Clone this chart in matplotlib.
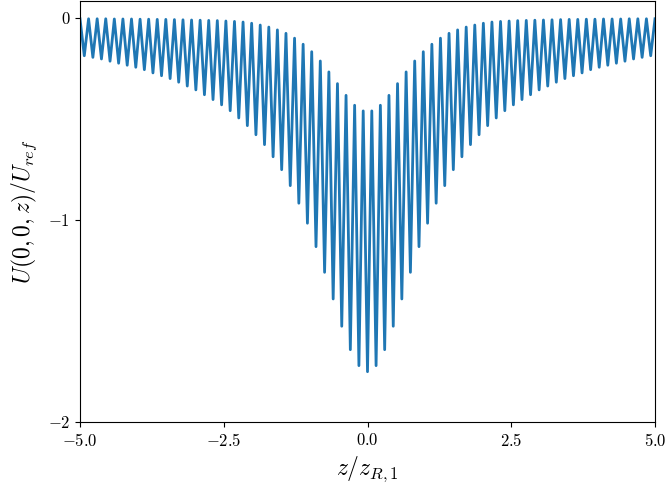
import numpy as np
import matplotlib
matplotlib.use("Agg")
import matplotlib.pyplot as plt

plt.rcParams['mathtext.fontset'] = 'cm'
plt.rcParams['font.family'] = 'serif'
plt.rcParams['font.serif'] = ['cmr10', 'DejaVu Serif']

# potential maxima (between wells), z<0 side then z>0 side
peaks_left = [-0.004, -0.004, -0.004, -0.004, -0.005, -0.005, -0.005, -0.006, -0.006,
              -0.007, -0.007, -0.008, -0.009, -0.010, -0.011, -0.012, -0.013,
              -0.015, -0.017, -0.020, -0.026, -0.035, -0.045, -0.059, -0.076, -0.100,
              -0.130, -0.167, -0.213, -0.267, -0.325, -0.383, -0.432, -0.460]
peaks_right = [-0.460, -0.432, -0.383, -0.325, -0.267, -0.213, -0.167, -0.130, -0.100,
               -0.076, -0.059, -0.045, -0.035, -0.026, -0.020, -0.017, -0.015,
               -0.013, -0.012, -0.011, -0.010, -0.009, -0.008, -0.007, -0.007,
               -0.006, -0.006, -0.005, -0.005, -0.005, -0.004, -0.004, -0.004, -0.004]

# well minima
troughs_left = [-0.187, -0.195, -0.203, -0.214, -0.224, -0.234, -0.244, -0.256, -0.272,
                -0.286, -0.300, -0.318, -0.337, -0.356, -0.380, -0.404, -0.430,
                -0.459, -0.495, -0.533, -0.578, -0.627, -0.687, -0.751, -0.830,
                -0.917, -1.016, -1.132, -1.259, -1.391, -1.526, -1.642, -1.721]
trough_center = -1.751
troughs_right = [-1.721, -1.642, -1.526, -1.391, -1.259, -1.132, -1.016, -0.917,
                 -0.830, -0.751, -0.687, -0.627, -0.578, -0.533, -0.495, -0.459,
                 -0.430, -0.404, -0.380, -0.356, -0.337, -0.318, -0.300, -0.286,
                 -0.272, -0.256, -0.244, -0.234, -0.224, -0.214, -0.203, -0.195, -0.187]

troughs = troughs_left + [trough_center] + troughs_right
peaks = peaks_left + peaks_right

# alternate max / min
U = []
for i in range(len(troughs)):
    U.append(peaks[i])
    U.append(troughs[i])
U.append(peaks[-1])
z = np.linspace(-5.0, 5.0, len(U))

fig = plt.figure(figsize=(6.67, 4.87), dpi=100)
ax = fig.add_axes([80/667, 1 - 422/487, 575/667, 421/487])
ax.plot(z, U, color='#1f77b4', lw=2.0, solid_joinstyle='round')

ax.set_xlim(-5, 5)
ax.set_ylim(-2, 0.084)
ax.set_xticks([-5, -2.5, 0, 2.5, 5])
ax.set_xticklabels([r'$-5.0$', r'$-2.5$', r'$0.0$', r'$2.5$', r'$5.0$'], fontsize=12)
ax.set_yticks([0, -1, -2])
ax.set_yticklabels([r'$0$', r'$-1$', r'$-2$'], fontsize=12)
ax.set_xlabel(r'$z/z_{R,1}$', fontsize=17)
ax.set_ylabel(r'$U(0,0,z)/U_{ref}$', fontsize=17, labelpad=6)

fig.savefig('out.png', dpi=100)
